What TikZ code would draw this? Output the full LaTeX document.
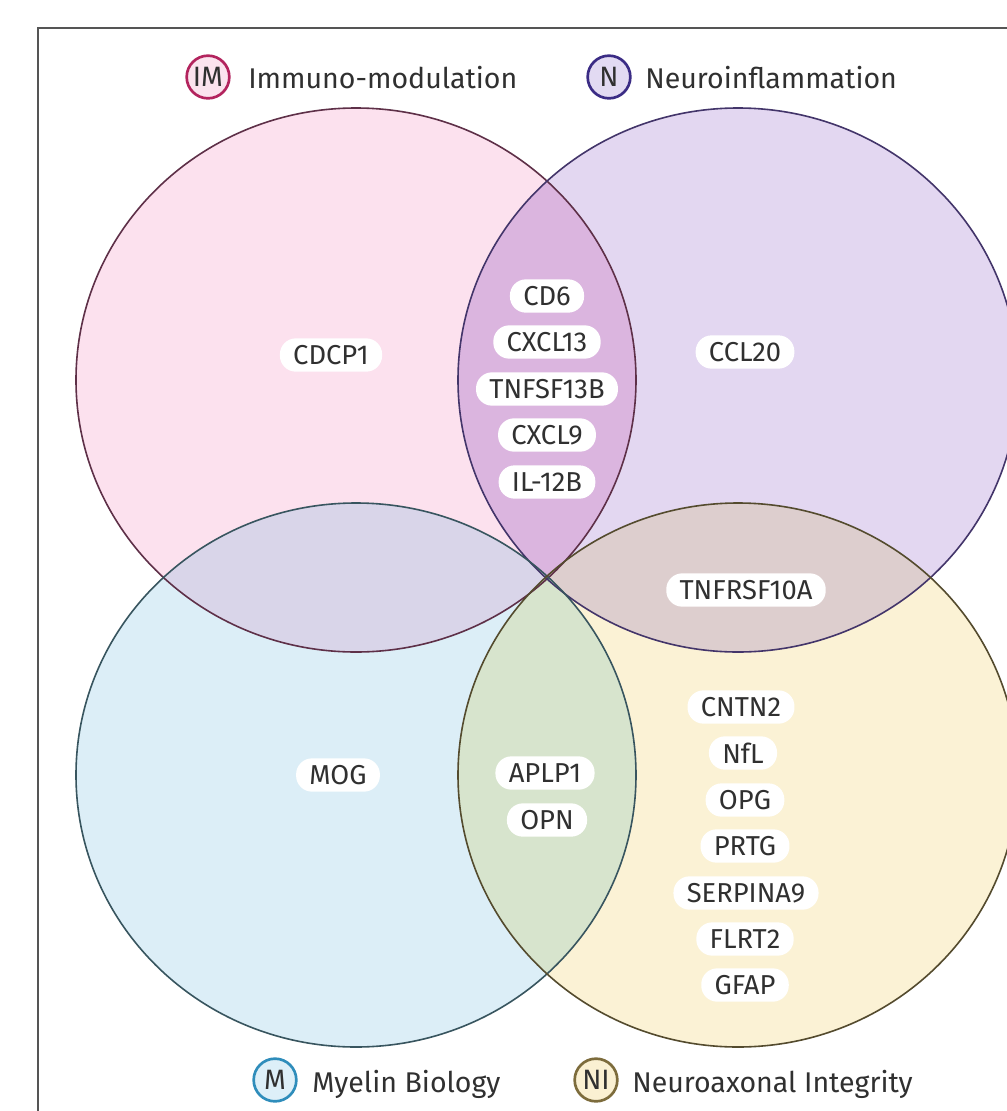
\documentclass[tikz,border=0pt]{standalone}
\usepackage{fontspec}
\setmainfont{Fira Sans}
\definecolor{imfill}{HTML}{FCE1EE}
\definecolor{imline}{HTML}{5E3048}
\definecolor{nfill}{HTML}{E3D7F1}
\definecolor{nline}{HTML}{43356A}
\definecolor{mfill}{HTML}{DCEEF7}
\definecolor{mline}{HTML}{38555F}
\definecolor{nifill}{HTML}{FBF2D5}
\definecolor{niline}{HTML}{544B2E}
\definecolor{imn}{HTML}{DBB5DF}
\definecolor{nni}{HTML}{DDCECE}
\definecolor{imm}{HTML}{D9D5E9}
\definecolor{mni}{HTML}{D7E4CD}
\definecolor{imbs}{HTML}{B3245E}
\definecolor{imbf}{HTML}{FBE3EE}
\definecolor{nbs}{HTML}{3B2C85}
\definecolor{nbf}{HTML}{E2DAF2}
\definecolor{mbs}{HTML}{2F8DBB}
\definecolor{mbf}{HTML}{DDEFF8}
\definecolor{nibs}{HTML}{7D6C3C}
\definecolor{nibf}{HTML}{FAF0D2}
\definecolor{txt}{HTML}{303030}
\definecolor{frame}{HTML}{555555}
\begin{document}
\begin{tikzpicture}[x=0.75pt,y=-0.75pt,
  gene/.style={fill=white, rounded corners=12pt, minimum height=25pt, inner xsep=10pt, inner ysep=0pt,
    text=txt, font=\fontsize{20.5}{23}\selectfont},
  badge/.style={circle, line width=2pt, minimum size=32pt, inner sep=0pt, text=txt,
    font=\fontsize{21}{23}\selectfont},
  head/.style={anchor=base west, inner sep=0pt, text=txt, font=\fontsize{21.4}{24}\selectfont},
  ring/.style={line width=1.2pt}]
\useasboundingbox (0,0) rectangle (1007,1111);
\clip (0,0) rectangle (1007,1111);
\fill[white] (0,0) rectangle (1007,1111);
\draw[frame, line width=1.1pt] (38,28) rectangle (1040,1150);

\coordinate (cIM) at (356,380);
\coordinate (cN) at (738,380);
\coordinate (cM) at (356,775);
\coordinate (cNI) at (738,775);
\def\rx{280}\def\ry{272}

% base fills
\fill[imfill] (cIM) ellipse [x radius=\rx, y radius=\ry];
\fill[nfill] (cN) ellipse [x radius=\rx, y radius=\ry];
\fill[mfill] (cM) ellipse [x radius=\rx, y radius=\ry];
\fill[nifill] (cNI) ellipse [x radius=\rx, y radius=\ry];
% overlaps
\begin{scope}
  \clip (cIM) ellipse [x radius=\rx, y radius=\ry];
  \fill[imn] (cN) ellipse [x radius=\rx, y radius=\ry];
  \fill[imm] (cM) ellipse [x radius=\rx, y radius=\ry];
\end{scope}
\begin{scope}
  \clip (cNI) ellipse [x radius=\rx, y radius=\ry];
  \fill[nni] (cN) ellipse [x radius=\rx, y radius=\ry];
  \fill[mni] (cM) ellipse [x radius=\rx, y radius=\ry];
\end{scope}
% outlines
\draw[ring, imline] (cIM) ellipse [x radius=\rx, y radius=\ry];
\draw[ring, nline] (cN) ellipse [x radius=\rx, y radius=\ry];
\draw[ring, mline] (cM) ellipse [x radius=\rx, y radius=\ry];
\draw[ring, niline] (cNI) ellipse [x radius=\rx, y radius=\ry];

% headings
\node[badge, draw=imbs, fill=imbf] (bIM) at (208,77) {IM};
\node[head] (tIM) at (248,88) {Immuno-modulation};
\node[badge, draw=nbs, fill=nbf] (bN) at (609,77) {N};
\node[head] (tN) at (645,88) {Neuroinflammation};
\node[badge, draw=mbs, fill=mbf] (bM) at (275,1080) {M};
\node[head] (tM) at (312,1092) {Myelin Biology};
\node[badge, draw=nibs, fill=nibf] (bNI) at (596,1080) {NI};
\node[head] (tNI) at (632,1092) {Neuroaxonal Integrity};

% genes
\node[gene] (cdcp1) at (331,355) {CDCP1};
\node[gene] (ccl20) at (745,352) {CCL20};
\node[gene] (cd6) at (547,296) {CD6};
\node[gene] (cxcl13) at (547,342) {CXCL13};
\node[gene] (tnfsf) at (547,389) {TNFSF13B};
\node[gene] (cxcl9) at (547,435) {CXCL9};
\node[gene] (il12b) at (547,482) {IL-12B};
\node[gene] (tnfrsf) at (746,590) {TNFRSF10A};
\node[gene] (mog) at (338,775) {MOG};
\node[gene] (aplp1) at (545,773) {APLP1};
\node[gene] (opn) at (547,820) {OPN};
\node[gene] (cntn2) at (741,707) {CNTN2};
\node[gene] (nfl) at (743,753) {NfL};
\node[gene] (opg) at (745,800) {OPG};
\node[gene] (prtg) at (745,846) {PRTG};
\node[gene] (serp) at (746,893) {SERPINA9};
\node[gene] (flrt2) at (745,939) {FLRT2};
\node[gene] (gfap) at (745,985) {GFAP};
\end{tikzpicture}
\end{document}
